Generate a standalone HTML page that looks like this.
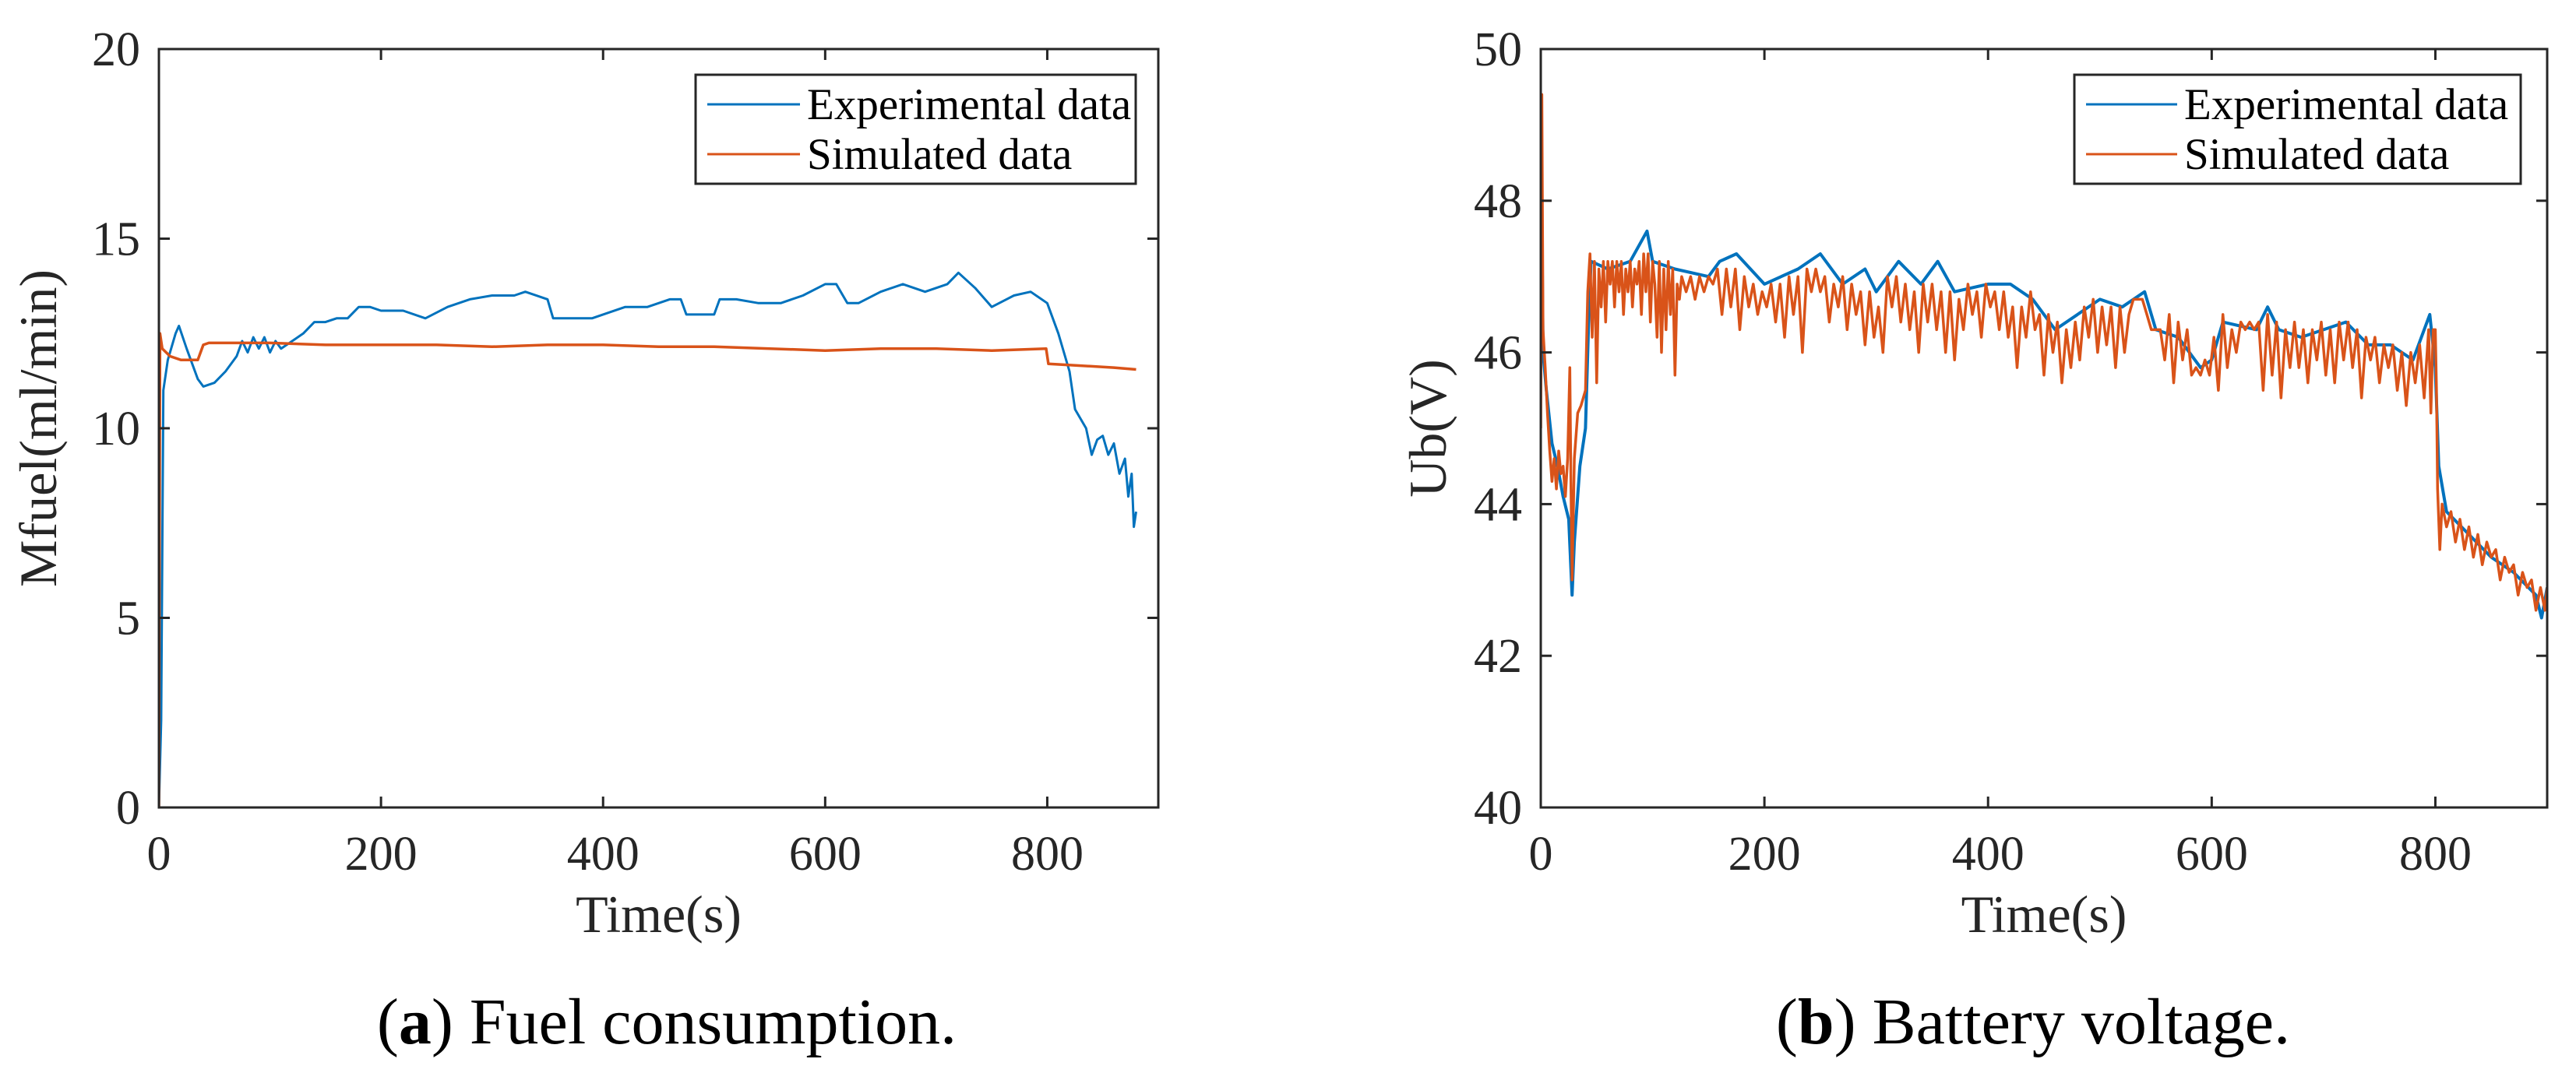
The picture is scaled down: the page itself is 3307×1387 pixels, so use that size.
<!DOCTYPE html>
<html><head><meta charset="utf-8"><style>
html,body{margin:0;padding:0;background:#fff;}
svg{display:block;}
text{font-family:"Liberation Serif",serif;fill:#262626;}
</style></head><body>
<svg id="fig" width="3307" height="1387" viewBox="0 0 3307 1387" xmlns="http://www.w3.org/2000/svg">
<g id="pa"></g>
<g id="pb"></g>
<text x="856" y="1340" font-size="84" text-anchor="middle" style="fill:#000">(<tspan font-weight="bold">a</tspan>) Fuel consumption.</text>
<text x="2610" y="1340" font-size="84" text-anchor="middle" style="fill:#000">(<tspan font-weight="bold">b</tspan>) Battery voltage.</text>
</svg>
<script>
const xTicks=[0,200,400,600,800];
const fuelYTicks=[0,5,10,15,20];
const voltYTicks=[40,42,44,46,48,50];
const fuelExpT=[0,2,4,8,15,18,25,35,40,50,60,70,75,80,85,90,95,100,105,110,120,130,140,150,160,170,180,190,200,220,240,260,280,300,320,330,350,355,370,390,400,420,440,460,470,475,490,500,505,520,540,560,580,600,610,620,630,650,670,690,710,720,735,750,770,785,800,810,820,825,835,840,845,850,855,860,865,870,873,876,878,880];
const fuelExpV=[0,2.3,11,11.8,12.5,12.7,12.1,11.3,11.1,11.2,11.5,11.9,12.3,12.0,12.4,12.1,12.4,12.0,12.3,12.1,12.3,12.5,12.8,12.8,12.9,12.9,13.2,13.2,13.1,13.1,12.9,13.2,13.4,13.5,13.5,13.6,13.4,12.9,12.9,12.9,13.0,13.2,13.2,13.4,13.4,13.0,13.0,13.0,13.4,13.4,13.3,13.3,13.5,13.8,13.8,13.3,13.3,13.6,13.8,13.6,13.8,14.1,13.7,13.2,13.5,13.6,13.3,12.5,11.5,10.5,10.0,9.3,9.7,9.8,9.3,9.6,8.8,9.2,8.2,8.8,7.4,7.8];
const fuelSimT=[0,1,3,10,20,35,40,45,100,150,200,250,300,350,400,450,500,550,600,650,700,750,799,801,830,860,880];
const fuelSimV=[0,12.5,12.1,11.9,11.8,11.8,12.2,12.25,12.25,12.2,12.2,12.2,12.15,12.2,12.2,12.15,12.15,12.1,12.05,12.1,12.1,12.05,12.1,11.7,11.65,11.6,11.55];
const voltExpT=[0,2,5,10,15,20,25,28,30,35,40,43,45,60,80,95,100,120,150,160,175,200,230,250,270,290,300,320,340,355,370,400,420,440,460,480,500,520,540,550,570,590,600,610,640,650,660,680,700,720,740,760,780,795,800,803,810,830,850,870,890,895,900];
const voltExpV=[49.4,46,45.5,44.8,44.5,44.1,43.8,42.8,43.5,44.5,45,46.5,47.2,47.1,47.2,47.6,47.2,47.1,47.0,47.2,47.3,46.9,47.1,47.3,46.9,47.1,46.8,47.2,46.9,47.2,46.8,46.9,46.9,46.7,46.3,46.5,46.7,46.6,46.8,46.3,46.2,45.8,45.9,46.4,46.3,46.6,46.3,46.2,46.3,46.4,46.1,46.1,45.9,46.5,45.8,44.5,43.9,43.6,43.3,43.1,42.8,42.5,42.9];
const voltSimT=[0,1,2,4,6,8,10,12,14,16,18,20,22,24,26,27,28,30,33,36,40,42,44,46,48,50,52,54,56,58,60,62,64,66,68,70,72,74,76,78,80,82,84,86,88,90,92,94,96,98,100,102,104,106,108,110,112,114,116,118,120,122,124,126,130,134,138,142,146,150,154,158,162,166,170,174,178,182,186,190,194,198,202,206,210,214,218,222,226,230,234,238,242,246,250,254,258,262,266,270,274,278,282,286,290,294,298,302,306,310,314,318,322,326,330,334,338,342,346,350,354,358,362,366,370,374,378,382,386,390,394,398,402,406,410,414,418,422,426,430,434,438,442,446,450,454,458,462,466,470,474,478,482,486,490,494,498,502,506,510,514,518,522,526,530,534,538,542,546,550,554,558,562,566,570,574,578,582,586,590,594,598,602,606,610,614,618,622,626,630,634,638,642,646,650,654,658,662,666,670,674,678,682,686,690,694,698,702,706,710,714,718,722,726,730,734,738,742,746,750,754,758,762,766,770,774,778,782,786,790,794,796,798,800,801,802,804,806,810,814,818,822,826,830,834,838,842,846,850,854,858,862,866,870,874,878,882,886,890,894,898,900];
const voltSimV=[45,49.4,46.3,45.8,45.2,44.7,44.3,44.6,44.2,44.7,44.4,44.5,44.1,44.6,45.8,44.2,43.0,44.6,45.2,45.3,45.5,46.8,47.3,46.2,47.2,45.6,47.1,46.6,47.2,46.4,47.2,46.9,47.2,46.6,47.2,46.8,47.2,46.5,47.1,46.8,47.2,46.6,47.1,46.9,47.2,46.5,47.3,46.8,47.3,46.4,47.2,46.9,46.2,47.2,46.0,47.1,46.3,47.2,46.5,47.1,45.7,46.9,46.7,47.0,46.8,47.0,46.7,47.0,46.8,47.0,46.9,47.1,46.5,47.1,46.6,47.1,46.3,47.0,46.6,46.9,46.5,46.8,46.6,46.9,46.4,46.9,46.2,47.0,46.5,47.0,46.0,47.1,46.8,47.1,46.8,47.0,46.4,46.9,46.6,47.0,46.3,46.9,46.5,46.8,46.1,46.8,46.2,46.6,46.0,47.0,46.6,47.0,46.4,46.9,46.3,46.8,46.0,46.9,46.4,46.9,46.3,46.8,46.0,46.8,45.9,46.7,46.3,46.9,46.5,46.8,46.2,46.9,46.6,46.8,46.3,46.8,46.2,46.6,45.8,46.6,46.2,46.8,46.3,46.5,45.7,46.5,46.0,46.4,45.6,46.3,45.8,46.4,45.9,46.6,46.2,46.7,46.0,46.6,46.1,46.6,45.8,46.6,46.0,46.5,46.7,46.7,46.7,46.5,46.3,46.3,46.3,45.9,46.5,45.6,46.4,45.9,46.3,45.7,45.8,45.7,45.9,45.7,46.2,45.5,46.5,45.8,46.3,46.0,46.4,46.3,46.4,46.3,46.4,45.5,46.5,45.7,46.4,45.4,46.3,45.8,46.4,45.8,46.3,45.6,46.3,45.9,46.4,45.7,46.3,45.6,46.4,45.9,46.4,45.8,46.3,45.4,46.2,45.9,46.2,45.6,46.1,45.8,46.1,45.5,46.0,45.3,46.0,45.6,46.1,45.4,46.3,45.2,46.3,46.3,45.5,44.2,43.4,44.0,43.7,43.9,43.5,43.8,43.4,43.7,43.3,43.6,43.2,43.5,43.3,43.4,43.0,43.3,43.1,43.2,42.8,43.1,42.9,43.0,42.6,42.9,42.6,42.9];

const NS='http://www.w3.org/2000/svg';
function mk(parent,tag,attrs){const e=document.createElementNS(NS,tag);for(const k in attrs)e.setAttribute(k,attrs[k]);parent.appendChild(e);return e;}
function chart(g,L,R,T,B,xmin,xmax,ymin,ymax,yTicks,yTitle,yTitleOff,series,legL,legR,lineX0,lineX1){
  const sx=v=>L+(v-xmin)/(xmax-xmin)*(R-L);
  const sy=v=>B-(v-ymin)/(ymax-ymin)*(B-T);
  const cp=mk(g,'clipPath',{id:g.id+'clip'});mk(cp,'rect',{x:L,y:T,width:R-L,height:B-T});
  series.forEach(s=>{
    let d='';s.t.forEach((t,i)=>{d+=(i?'L':'M')+sx(t).toFixed(1)+' '+sy(s.v[i]).toFixed(1);});
    const p=mk(g,'path',{d:d,fill:'none',stroke:s.c,'stroke-width':s.w,'stroke-linejoin':'round','clip-path':'url(#'+g.id+'clip)'});
    
    
  });
  const ax=mk(g,'rect',{x:L,y:T,width:R-L,height:B-T,fill:'none',stroke:'#262626','stroke-width':3});
  
  
  xTicks.forEach(v=>{
    const x=sx(v);
    mk(g,'line',{x1:x,y1:B,x2:x,y2:B-14,stroke:'#262626','stroke-width':3});
    mk(g,'line',{x1:x,y1:T,x2:x,y2:T+14,stroke:'#262626','stroke-width':3});
    const t=mk(g,'text',{x:x,y:B+80,'font-size':62,'text-anchor':'middle'});t.textContent=v;
    
    
  });
  yTicks.forEach(v=>{
    const y=sy(v);
    mk(g,'line',{x1:L,y1:y,x2:L+14,y2:y,stroke:'#262626','stroke-width':3});
    mk(g,'line',{x1:R,y1:y,x2:R-14,y2:y,stroke:'#262626','stroke-width':3});
    const t=mk(g,'text',{x:L-24,y:y+21,'font-size':62,'text-anchor':'end'});t.textContent=v;
    
    
  });
  const xt=mk(g,'text',{x:(L+R)/2,y:B+160,'font-size':68,'text-anchor':'middle'});xt.textContent='Time(s)';
  
  
  const cy=(T+B)/2;
  const yt=mk(g,'text',{x:0,y:0,'font-size':68,'text-anchor':'middle',transform:'translate('+(L-yTitleOff)+','+cy+') rotate(-90)'});yt.textContent=yTitle;
  
  
  const lg=mk(g,'g',{});
  
  
  mk(lg,'rect',{x:legL,y:96,width:legR-legL,height:140,fill:'#fff',stroke:'#262626','stroke-width':3});
  [['Experimental data','#0072BD',134],['Simulated data','#D95319',198]].forEach(e=>{
    mk(lg,'line',{x1:lineX0,y1:e[2],x2:lineX1,y2:e[2],stroke:e[1],'stroke-width':3});
    const t=mk(lg,'text',{x:lineX1+9,y:e[2]+19,'font-size':57,style:'fill:#000'});t.textContent=e[0];
    
    
  });
}
chart(document.getElementById('pa'),204,1487,63,1037,0,900,0,20,fuelYTicks,'Mfuel(ml/min)',132,
  [{t:fuelExpT,v:fuelExpV,c:'#0072BD',w:3,name:'experimental-line'},{t:fuelSimT,v:fuelSimV,c:'#D95319',w:3.5,name:'simulated-line'}],
  893,1458,908,1027);
chart(document.getElementById('pb'),1978,3270,63,1037,0,900,40,50,voltYTicks,'Ub(V)',122,
  [{t:voltExpT,v:voltExpV,c:'#0072BD',w:4,name:'experimental-line'},{t:voltSimT,v:voltSimV,c:'#D95319',w:3.5,name:'simulated-line'}],
  2663,3236,2678,2795);
</script>
</body></html>
